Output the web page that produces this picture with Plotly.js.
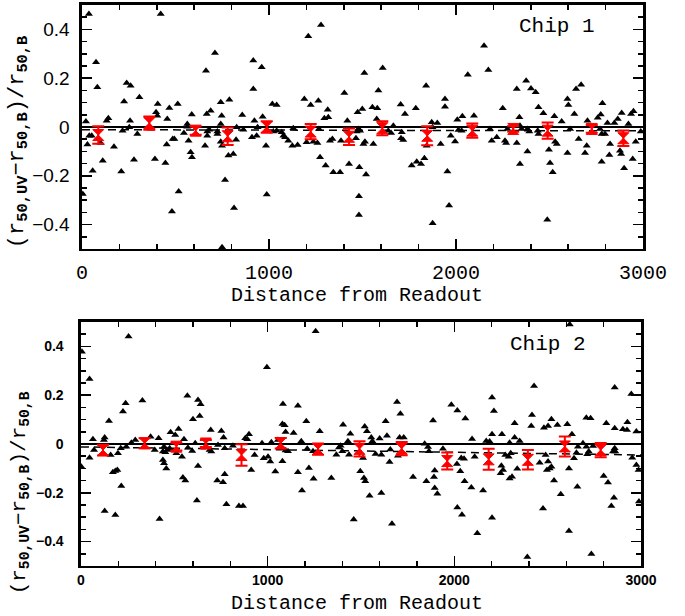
<!DOCTYPE html>
<html>
<head>
<meta charset="utf-8">
<script src="https://cdn.plot.ly/plotly-3.0.1.min.js"></script>
<style>html,body{margin:0;padding:0;background:#fff;}#chart{width:685px;height:616px;}</style>
</head>
<body>
<div id="chart"></div>
<script>
// ---- Chip 1 individual measurements (black triangles) ----
const chip1X = [
 37,421,75,82,711,916,961,663,916,239,260,307,225,405,467,512,742,788,688,667,
 747,857,587,396,403,456,257,141,132,21,966,922,1018,1041,563,253,217,296,364,563,
 545,670,681,724,742,827,863,939,1041,1023,934,909,724,670,52,39,29,100,171,453,
 485,494,570,658,742,749,824,984,581,588,783,809,278,390,446,111,57,210,765,517,
 988,4,813,481,749,
 1278,1210,1510,1608,2063,1840,1403,1585,1189,1223,1264,1941,1941,1314,1499,1474,1553,1579,1704,1785,
 1727,1317,1296,1419,1576,1870,1900,2007,2034,2096,1130,1068,1077,1086,1103,1125,1153,1201,1237,1259,
 1267,1326,1339,1385,1469,1478,1487,1465,1513,1505,1558,1638,1653,1665,1710,1706,1718,1843,1874,1972,
 1995,1918,2013,2030,1273,1303,1344,1380,1428,1483,1519,1763,1790,1813,1831,1954,1481,1481,1963,1875,
 2150,2173,2375,2325,2401,2426,2441,2250,2467,2596,2601,2642,2669,2783,2339,2526,2633,2565,2703,2758,
 2774,2810,2847,2865,2886,2949,2936,2922,2182,2191,2218,2262,2268,2275,2325,2342,2351,2382,2392,2437,
 2441,2530,2539,2497,2382,2596,2656,2699,2690,2610,2770,2779,2797,2824,2820,2877,2883,2779,2899,2945,
 2961,2988,2342,2503,2517,2488
];
const chip1Y = [
 0.463,0.463,0.265,0.163,0.303,0.272,0.245,0.231,0.156,0.180,0.169,0.122,0.104,0.094,0.078,0.094,0.101,0.112,0.067,0.053,
 0.046,0.049,0.051,0.060,0.046,0.033,0.026,0.036,0.026,0.023,0.042,0.026,0.094,0.090,0.012,-0.001,-0.015,-0.029,0.000,0.001,
 -0.025,-0.019,-0.011,-0.019,0.012,-0.001,-0.011,-0.001,-0.015,-0.019,-0.036,-0.042,-0.029,-0.036,-0.036,-0.036,-0.072,-0.066,-0.081,-0.072,
 -0.049,-0.049,-0.056,-0.077,-0.060,-0.077,-0.052,-0.077,-0.104,-0.124,-0.117,-0.111,-0.134,-0.131,-0.148,-0.138,-0.179,-0.182,-0.217,-0.264,
 -0.277,-0.275,-0.332,-0.346,-0.493,
 0.418,0.372,0.221,0.242,0.214,0.169,0.139,0.150,0.115,0.090,0.108,0.115,0.083,0.071,0.074,0.060,0.081,0.077,0.092,0.077,
 0.053,0.040,0.036,0.026,0.033,0.019,0.016,0.030,0.044,0.046,-0.005,-0.022,-0.036,-0.042,-0.056,-0.077,-0.074,-0.063,-0.060,-0.066,
 -0.008,-0.056,-0.049,-0.056,-0.019,-0.008,-0.015,-0.046,-0.060,-0.070,-0.070,-0.015,-0.025,0.005,-0.022,-0.046,-0.053,-0.077,-0.001,-0.036,
 -0.059,-0.070,-0.012,-0.015,-0.124,-0.158,-0.186,-0.186,-0.152,-0.165,-0.195,-0.158,-0.142,-0.152,-0.128,-0.182,-0.284,-0.361,-0.322,-0.395,
 0.333,0.234,0.190,0.156,0.158,0.142,0.081,0.077,0.056,0.115,0.090,0.156,0.173,0.097,0.040,0.044,0.053,0.022,0.026,0.038,
 0.051,0.016,0.016,0.033,0.057,0.064,0.053,0.012,-0.008,-0.056,-0.042,-0.056,-0.066,-0.008,-0.066,0.005,-0.008,-0.008,-0.019,-0.015,
 -0.029,-0.060,-0.070,-0.093,-0.100,-0.107,-0.049,-0.077,-0.107,-0.008,-0.008,-0.029,-0.029,-0.070,-0.115,-0.097,-0.111,-0.142,-0.169,-0.131,
 -0.060,-0.019,-0.152,-0.148,-0.186,-0.380
];

// ---- Chip 2 individual measurements (black triangles) ----
const chip2X = [
 255,5,46,570,329,239,225,627,641,150,600,636,996,523,480,505,695,752,764,900,
 880,891,552,416,373,291,270,127,123,64,970,1020,1055,243,213,198,159,46,70,395,
 445,452,466,439,475,511,541,573,596,612,689,698,734,770,814,930,979,1014,1002,1041,
 912,439,445,457,627,184,195,171,216,546,559,730,761,770,621,779,846,868,127,184,
 421,2,
 1257,1082,1162,1207,1079,1091,1096,1139,1279,1404,1443,1520,1532,1555,1561,1632,1639,1600,1693,1711,
 1707,1729,1886,1984,2016,2059,2095,1180,1079,1162,1221,1246,1184,1341,1096,1109,1212,1243,1368,1382,
 1391,1400,1430,1436,1496,1516,1523,1511,1546,1578,1609,1609,1653,1657,1698,1779,1841,1850,1859,1864,
 1895,1891,1895,1909,1939,2014,2037,2052,2032,2055,2091,2016,2041,1461,1666,
 2618,2859,2427,2202,2212,2948,2416,2412,2323,2480,2502,2520,2552,2605,2707,2730,2814,2859,2903,2927,
 2925,2975,2202,2255,2323,2350,2296,2171,2189,2630,2109,2252,2261,2248,2296,2309,2337,2273,2291,2302,
 2457,2489,2502,2496,2511,2520,2534,2614,2641,2654,2662,2707,2712,2720,2743,2689,2859,2850,2862,2953,
 2975,2987,2800,2823,2659,2570,2154,2855,2841,2989,2202,2475,2123,2614,2391,2734
];
const chip2Y = [
 0.440,0.378,0.266,0.198,0.178,0.167,0.133,0.180,0.163,0.094,0.101,0.115,0.314,0.061,0.048,0.037,0.057,0.053,0.027,0.040,
 0.023,0.019,0.019,0.023,0.030,0.016,0.005,0.027,0.016,0.019,0.003,0.007,0.016,-0.011,-0.018,-0.038,-0.045,-0.056,-0.025,-0.025,
 -0.011,-0.034,-0.025,-0.031,-0.018,-0.038,-0.052,-0.015,-0.029,0.003,-0.025,-0.031,-0.004,-0.018,-0.007,-0.045,-0.059,-0.072,-0.052,-0.113,
 -0.107,-0.066,-0.079,-0.100,-0.090,-0.111,-0.107,-0.116,-0.172,-0.137,-0.150,-0.150,-0.157,-0.124,-0.232,-0.247,-0.254,-0.254,-0.275,-0.291,
 -0.307,-0.093,
 0.462,0.164,0.157,0.093,0.082,0.077,0.049,0.045,0.052,0.079,0.042,0.072,0.052,0.027,0.011,0.093,0.034,0.022,0.172,0.124,
 0.027,0.027,0.096,0.161,0.137,0.104,0.020,0.011,-0.071,-0.116,-0.098,-0.143,-0.191,-0.139,-0.027,-0.030,-0.020,-0.030,-0.044,-0.014,
 -0.007,-0.030,0.011,-0.044,-0.112,-0.139,-0.153,-0.057,-0.212,-0.041,-0.044,-0.201,-0.074,-0.023,-0.048,-0.135,0.001,-0.153,-0.012,-0.030,
 -0.109,-0.135,-0.180,-0.204,-0.020,-0.082,-0.057,-0.061,-0.112,-0.153,-0.178,-0.260,-0.290,-0.310,-0.327,
 0.490,0.231,0.238,0.190,0.135,0.205,0.119,0.074,0.085,0.067,0.074,0.101,0.078,0.081,0.108,0.105,0.085,0.064,0.060,0.089,
 0.057,0.051,0.040,0.040,0.027,0.012,0.005,0.012,0.010,0.040,-0.052,-0.089,-0.107,-0.120,-0.141,-0.134,-0.102,-0.045,-0.052,-0.038,
 -0.077,-0.045,-0.072,-0.107,-0.100,-0.093,-0.150,-0.100,-0.059,-0.036,-0.011,-0.011,-0.042,-0.031,-0.008,0.003,-0.018,-0.031,-0.031,-0.056,
 -0.086,-0.107,-0.131,-0.158,-0.175,-0.206,-0.191,-0.220,-0.254,-0.236,-0.302,-0.264,-0.366,-0.357,-0.463,-0.451
];

// ---- Binned means (red) ----
const bin1X   = [87, 360, 608, 779, 988, 1223, 1428, 1606, 1846, 2087, 2306, 2490, 2726, 2895];
const bin1Y   = [-0.033, 0.016, -0.015, -0.038, 0.000, -0.019, -0.040, -0.005, -0.036, -0.015, -0.008, -0.015, -0.008, -0.046];
const bin1Err = [0.036, 0.027, 0.017, 0.036, 0.024, 0.031, 0.034, 0.029, 0.039, 0.029, 0.012, 0.033, 0.016, 0.032];

const bin2X   = [118, 341, 511, 669, 860, 1070, 1270, 1492, 1718, 1962, 2184, 2394, 2592, 2784];
const bin2Y   = [-0.025, 0.003, -0.011, 0.002, -0.045, 0.003, -0.021, -0.020, -0.019, -0.070, -0.063, -0.065, -0.010, -0.025];
const bin2Err = [0.022, 0.020, 0.016, 0.014, 0.044, 0.022, 0.023, 0.031, 0.027, 0.035, 0.043, 0.040, 0.041, 0.029];

// ---- Reference lines ----
const lineX = [0, 3000];
const zeroY = [0, 0];
const fit1Y = [-0.011, -0.016];
const fit2Y = [-0.012, -0.045];

const xTitle = 'Distance from Readout';
const yTitle = '(r<sub><b>50,UV</b></sub>\u2212r<sub><b>50,B</b></sub>)/r<sub><b>50,B</b></sub>';

const mono = 'Liberation Mono, DejaVu Sans Mono, monospace';
const sans = 'Liberation Sans, Arial, sans-serif';

function tri(x, y, xa, ya) {
  return {type:'scatter', mode:'markers', x:x, y:y, xaxis:xa, yaxis:ya,
    marker:{symbol:'triangle-up', size:7, color:'black'}, hoverinfo:'skip', showlegend:false};
}
function bins(x, y, e, xa, ya) {
  return {type:'scatter', mode:'markers', x:x, y:y, xaxis:xa, yaxis:ya,
    marker:{symbol:'hourglass', size:11, color:'#ff0000', line:{color:'#ff0000', width:1}},
    error_y:{type:'data', array:e, visible:true, color:'#ff0000', thickness:2, width:6},
    showlegend:false};
}
function line(y, xa, ya, dash, w) {
  return {type:'scatter', mode:'lines', x:lineX, y:y, xaxis:xa, yaxis:ya,
    line:{color:'black', width:w, dash:dash}, showlegend:false, hoverinfo:'skip'};
}

const traces = [
  line(zeroY, 'x', 'y', 'solid', 2),
  line(fit1Y, 'x', 'y', '8px,5px', 1.5),
  tri(chip1X, chip1Y, 'x', 'y'),
  bins(bin1X, bin1Y, bin1Err, 'x', 'y'),
  line(zeroY, 'x2', 'y2', 'solid', 2),
  line(fit2Y, 'x2', 'y2', '8px,5px', 1.5),
  tri(chip2X, chip2Y, 'x2', 'y2'),
  bins(bin2X, bin2Y, bin2Err, 'x2', 'y2')
];

function xaxis(dom, anchor, font, standoff) {
  return {domain:dom, anchor:anchor, range:[0,3000], tick0:0, dtick:1000,
    showline:true, linewidth:2.5, linecolor:'black', mirror:'ticks',
    ticks:'inside', ticklen:10, tickwidth:1.5, tickcolor:'black',
    minor:{dtick:200, ticks:'inside', ticklen:5, tickwidth:1.5, tickcolor:'black'},
    showgrid:false, zeroline:false, tickfont:font, ticklabelstandoff:standoff, fixedrange:true};
}
function yaxis(dom, anchor, font, standoff) {
  return {domain:dom, anchor:anchor, range:[-0.5,0.5], tick0:0, dtick:0.2,
    showline:true, linewidth:2.5, linecolor:'black', mirror:'ticks',
    ticks:'inside', ticklen:10, tickwidth:1.5, tickcolor:'black',
    minor:{dtick:0.05, ticks:'inside', ticklen:5, tickwidth:1.5, tickcolor:'black'},
    showgrid:false, zeroline:false, tickfont:font, ticklabelstandoff:standoff, fixedrange:true};
}

const layout = {
  width:685, height:616, margin:{l:0, r:0, t:0, b:0},
  paper_bgcolor:'white', plot_bgcolor:'white', showlegend:false,
  xaxis: xaxis([0.1197, 0.9387], 'y', {family:mono, size:20, color:'black'}, 4),
  yaxis: yaxis([0.5958, 0.9919], 'x', {family:sans, size:19, color:'black'}, 6),
  xaxis2: xaxis([0.1182, 0.9358], 'y2', {family:sans, size:14, color:'black', weight:'bold'}, 0),
  yaxis2: yaxis([0.0812, 0.4773], 'x2', {family:sans, size:14, color:'black', weight:'bold'}, 12),
  annotations:[
    {text:'Chip 1', x:2540, y:0.41, xref:'x', yref:'y', showarrow:false, font:{family:mono, size:21, color:'black'}},
    {text:'Chip 2', x:2502, y:0.406, xref:'x2', yref:'y2', showarrow:false, font:{family:mono, size:21, color:'black'}},
    {text:xTitle, x:0.521, y:0.521, xref:'paper', yref:'paper', xanchor:'center', yanchor:'middle', showarrow:false, font:{family:mono, size:20, color:'black'}},
    {text:xTitle, x:0.521, y:0.021, xref:'paper', yref:'paper', xanchor:'center', yanchor:'middle', showarrow:false, font:{family:mono, size:20, color:'black'}},
    {text:yTitle, x:0.027, y:0.770, xref:'paper', yref:'paper', xanchor:'center', yanchor:'middle', textangle:-90, showarrow:false, font:{family:mono, size:22, color:'black'}},
    {text:yTitle, x:0.030, y:0.200, xref:'paper', yref:'paper', xanchor:'center', yanchor:'middle', textangle:-90, showarrow:false, font:{family:mono, size:21, color:'black'}}
  ]
};

Plotly.newPlot('chart', traces, layout, {displayModeBar:false, staticPlot:true});
</script>
</body>
</html>
